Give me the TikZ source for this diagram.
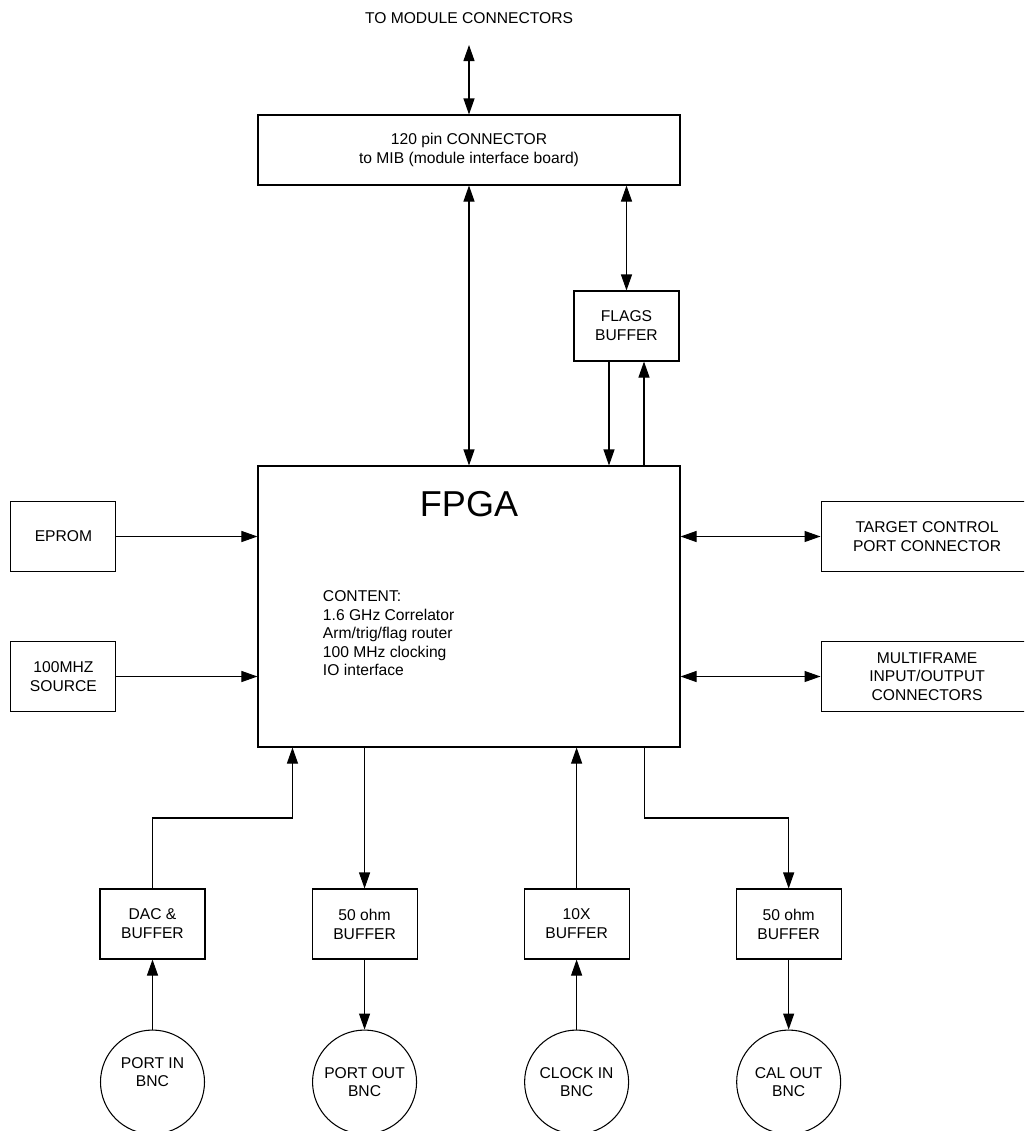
\documentclass[tikz,border=0pt]{standalone}
\usepackage{fontspec}
\setmainfont{Liberation Sans}
\usetikzlibrary{positioning,calc,arrows.meta}

\begin{document}
\begin{tikzpicture}[x=0.2mm, y=-0.2mm, font=\fontsize{8.9}{10.7}\selectfont, line width=0.6pt,
  box/.style={draw, align=center, minimum width=21mm, minimum height=14mm, inner sep=1pt},
  wide/.style={box, minimum width=84.4mm},
  port/.style={box, minimum width=42.4mm},
  bnc/.style={draw, circle, align=center, minimum size=20.8mm, inner sep=0pt},
  arr/.style={-{Triangle[length=3.2mm, width=2.2mm]}},
  bi/.style={{Triangle[length=3.2mm, width=2.2mm]}-{Triangle[length=3.2mm, width=2.2mm]}}]
  \useasboundingbox (0,0) rectangle (1024,1131);
  \clip (0,0) rectangle (1024,1131);
  % module connector and flags
  \node[wide] (conn) at (469,150) {120 pin CONNECTOR\\to MIB (module interface board)};
  \coordinate (modtop) at (469,45);
  \node[inner sep=0pt, above=4.2mm of modtop] (mod) {TO MODULE CONNECTORS};
  \node[box] (flags) at (626.5,326) {FLAGS\\BUFFER};
  % fpga
  \node[wide, minimum height=56.2mm, label={[font=\fontsize{20.5}{24}\selectfont, inner sep=0pt, anchor=north, yshift=-5mm]north:FPGA}] (fpga) at (469,606.5) {};
  \node[anchor=north west, align=left, inner sep=0pt, font=\fontsize{8.9}{10.5}\selectfont] (content) at ($(fpga.north west)+(65,125)$) {CONTENT:\\1.6 GHz Correlator\\Arm/trig/flag router\\100 MHz clocking\\IO interface};
  % left and right side
  \node[box, left=28.2mm of fpga, yshift=14mm] (eprom) {EPROM};
  \node[box, left=28.2mm of fpga, yshift=-14mm] (clk) {100MHZ\\SOURCE};
  \node[port, right=28mm of fpga, yshift=14mm] (tcp) {TARGET CONTROL\\PORT CONNECTOR};
  \node[port, right=28mm of fpga, yshift=-14mm] (mf) {MULTIFRAME\\INPUT/OUTPUT\\CONNECTORS};
  % buffers and bnc
  \node[box] (dac) at (152.5,924) {DAC \&\\BUFFER};
  \node[box, right=21.2mm of dac] (pob) {50 ohm\\BUFFER};
  \node[box, right=21.2mm of pob] (tenx) {10X\\BUFFER};
  \node[box, right=21.2mm of tenx] (cob) {50 ohm\\BUFFER};
  \node[bnc, below=14mm of dac, label={[align=center, yshift=2mm]center:PORT IN\\BNC}] (pin) {};
  \node[bnc, below=14mm of pob] (pout) {PORT OUT\\BNC};
  \node[bnc, below=14mm of tenx] (cin) {CLOCK IN\\BNC};
  \node[bnc, below=14mm of cob] (cout) {CAL OUT\\BNC};
  \coordinate (dacmid) at ($(dac.north)!0.5!(dac.north |- fpga.south)$);
  \coordinate (calmid) at ($(cob.north)!0.5!(cob.north |- fpga.south)$);
  % links
  \draw[bi] (modtop) -- (conn);
  \draw[bi] (conn) -- (fpga);
  \draw[bi] (conn.south -| flags.north) -- (flags);
  \draw[arr] ([xshift=-3.5mm]flags.south) -- ([xshift=-3.5mm]flags.south |- fpga.north);
  \draw[arr] ([xshift=3.5mm]flags.south |- fpga.north) -- ([xshift=3.5mm]flags.south);
  \draw[arr] (eprom) -- (eprom -| fpga.west);
  \draw[arr] (clk) -- (clk -| fpga.west);
  \draw[bi] (tcp -| fpga.east) -- (tcp);
  \draw[bi] (mf -| fpga.east) -- (mf);
  \draw[arr] (dac.north) -- (dacmid) -| ([xshift=7mm]fpga.south west);
  \draw[arr] (pob.north |- fpga.south) -- (pob);
  \draw[arr] (tenx) -- (tenx.north |- fpga.south);
  \draw[arr] ([xshift=-7.2mm]fpga.south east) |- (calmid) -- (cob);
  \draw[arr] (pin) -- (dac);
  \draw[arr] (pob) -- (pout);
  \draw[arr] (cin) -- (tenx);
  \draw[arr] (cob) -- (cout);
\end{tikzpicture}
\end{document}
